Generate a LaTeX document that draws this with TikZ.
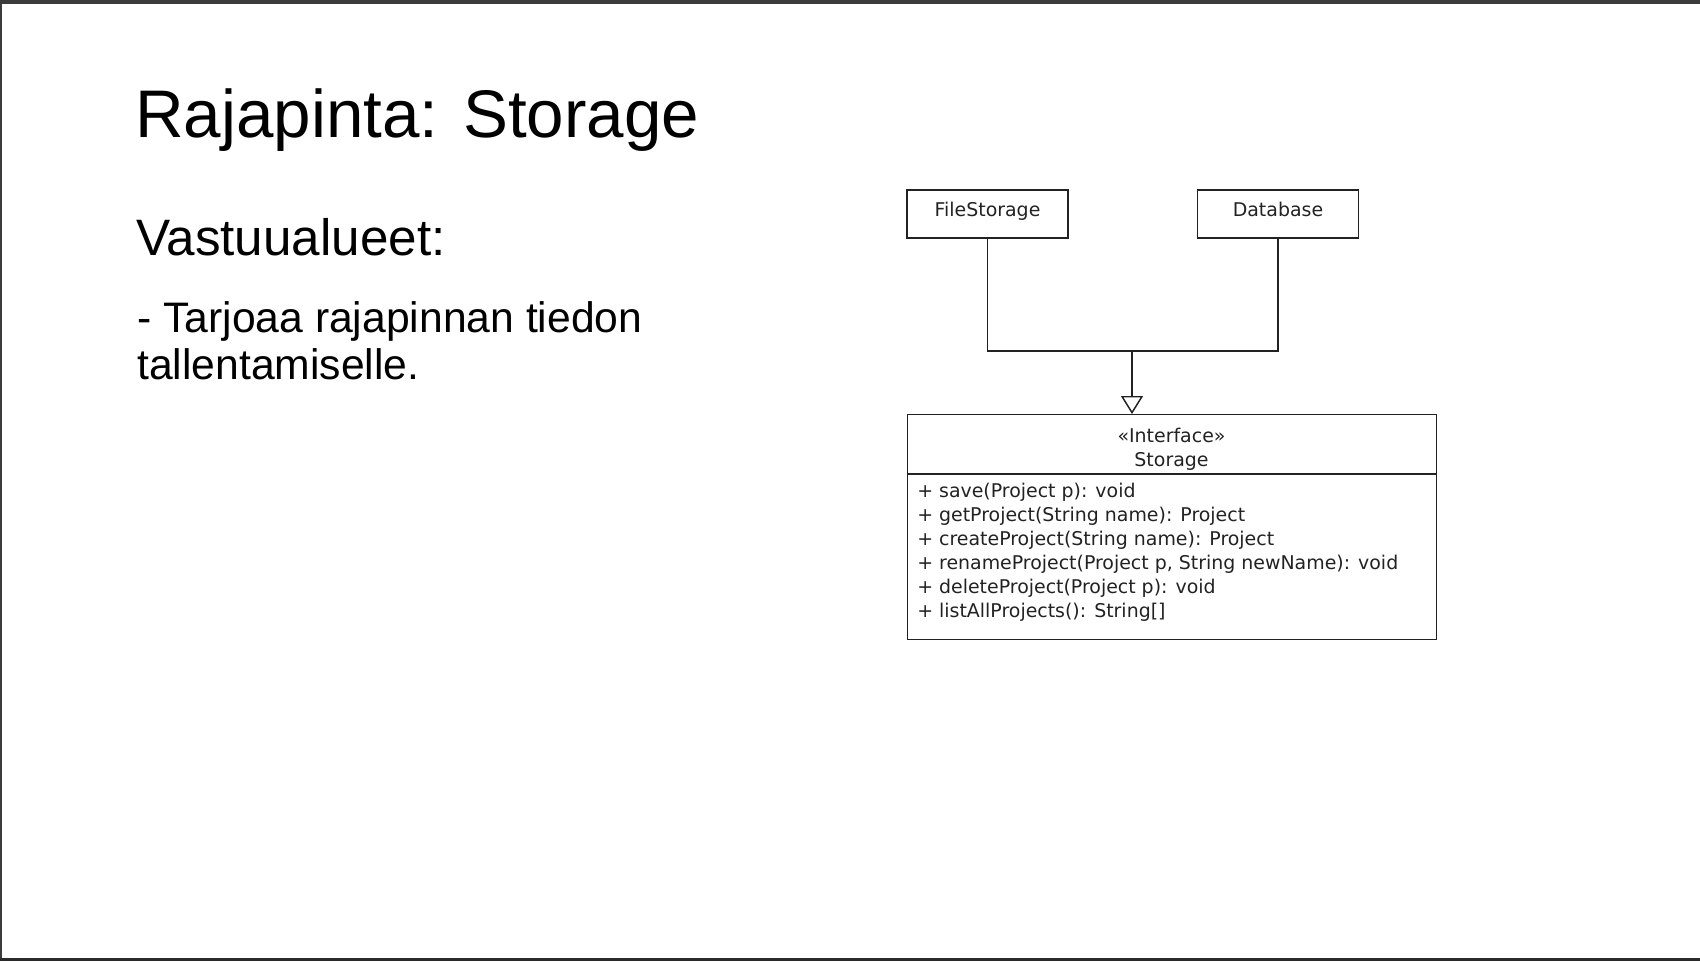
\documentclass[tikz,border=0pt]{standalone}
\usepackage{fontspec}
\setmainfont{Liberation Sans}
\newfontfamily\umlfont{DejaVu Sans}
\usetikzlibrary{positioning,arrows.meta}
\definecolor{framegray}{HTML}{3C3C3C}
\definecolor{umlink}{HTML}{222222}

\begin{document}
\begin{tikzpicture}[x=0.75pt,y=-0.75pt,
	title/.style={anchor=base west, inner sep=0pt, font=\fontsize{50.5}{60}\selectfont},
	heading/.style={anchor=base west, inner sep=0pt, font=\fontsize{38.4}{45}\selectfont},
	bullet/.style={anchor=base west, inner sep=0pt, align=left, font=\fontsize{32}{35.25}\selectfont},
	classbox/.style={rectangle, draw=umlink, line width=1.1pt, minimum width=120.75pt, minimum height=36pt, inner sep=0pt, text height=11pt, text depth=8pt, font=\umlfont\fontsize{14.2}{18}\selectfont, text=umlink},
	ifacebox/.style={rectangle, draw=umlink, line width=1.1pt, minimum width=396.75pt, minimum height=168.75pt, inner sep=0pt},
	umltext/.style={inner sep=0pt, font=\umlfont\fontsize{14.2}{18}\selectfont, text=umlink},
	paths/.style={draw=umlink, line width=1.1pt},
	realize/.style={-{Triangle[open, length=13.5pt, width=16.5pt]}, draw=umlink, line width=1.1pt}
	] % slide frame and texts
\path[use as bounding box] (0,0) rectangle (1700,961);
\fill[framegray] (0,0) rectangle (1700,4);
\fill[framegray] (0,0) rectangle (2,961);
\fill[framegray!70!black] (0,958) rectangle (1700,961);

\node [title]   (ttl)   at (135,137) {Rajapinta: Storage};
\node [heading] (resp)  at (136,255) {Vastuualueet:};
\node [bullet]  (resp1) at (137,379) {- Tarjoaa rajapinnan tiedon\\tallentamiselle.};

% classes
\node [classbox] (fs) at (987.5,214) {FileStorage};
\node [classbox] (db) [right=96pt of fs] {Database};

\node [ifacebox, anchor=north west] (st) at (907,414) {};
\node [umltext, align=center, anchor=base] (sthead) at (1171.5,466) {«Interface»\\Storage};
\coordinate (sdiv) at (907,474);
\node [umltext, align=left, anchor=base west] (stops) at (917,617) {+ save(Project p): void\\+ getProject(String name): Project\\+ createProject(String name): Project\\+ renameProject(Project p, String newName): void\\+ deleteProject(Project p): void\\+ listAllProjects(): String[]};

\draw [paths] (sdiv) -- (sdiv -| st.east);

% realization
\coordinate (jn) at (1132,351);
\draw [paths] (fs.south) |- (jn);
\draw [paths] (db.south) |- (jn);
\draw [realize] (jn) -- (jn |- st.north);
\end{tikzpicture}
\end{document}
